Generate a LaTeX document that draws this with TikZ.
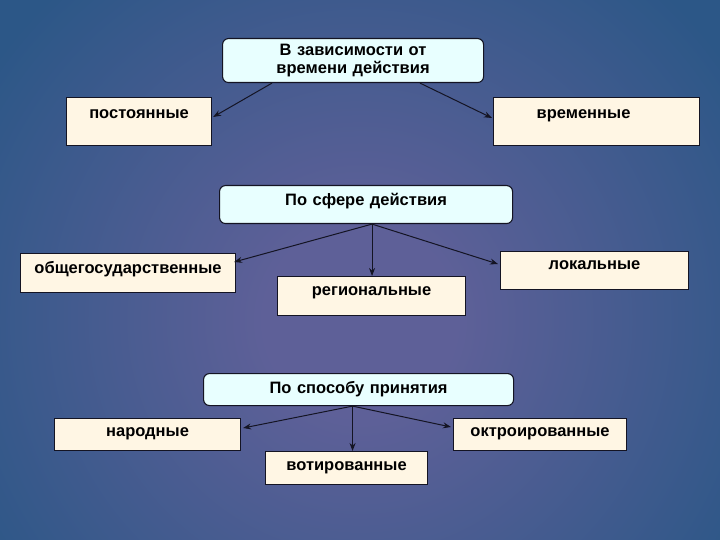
\documentclass[tikz,border=0pt]{standalone}
\usepackage{fontspec}
\setmainfont{Liberation Sans}
\usetikzlibrary{arrows.meta,calc}
\definecolor{bgout}{RGB}{44,87,135}
\definecolor{bgin}{RGB}{94,96,152}
\definecolor{cyanbox}{RGB}{232,255,255}
\definecolor{beige}{RGB}{255,246,228}
\definecolor{edgec}{RGB}{20,20,35}
\pgfdeclareradialshading{bgshade}{\pgfpoint{0bp}{0bp}}{color(0bp)=(bgin); color(6bp)=(bgin); color(28bp)=(bgout); color(50bp)=(bgout)}
\tikzset{
  box/.style={draw=edgec, line width=1.1pt, fill=beige, inner sep=0pt, anchor=north west, align=center,
    font=\bfseries\fontsize{16.5}{18}\selectfont},
  head/.style={box, fill=cyanbox, rounded corners=6pt},
  arr/.style={-{Stealth[length=8pt,width=6pt]}, line width=1pt, draw=edgec}
}
\begin{document}
\begin{tikzpicture}[x=1pt,y=-1pt]
\useasboundingbox (0,0) rectangle (720,540);
\begin{scope}
\clip (0,0) rectangle (720,540);
\shade[shading=bgshade] (-40,-80) rectangle (760,720);
\end{scope}

% group 1
\node[head, text width=261pt, minimum height=44pt] (h1) at (222,38) {В зависимости от\\времени действия};
\node[box, text width=145pt, text height=21pt, text depth=27pt] (post) at (66,97) {постоянные};
\node[box, text width=206pt, text height=21pt, text depth=27pt] (vrem) at (493,97) {временные\makebox[26pt]{}};

% group 2
\node[head, text width=293pt, text height=20pt, text depth=18pt] (h2) at (219,185) {По сфере действия};
\node[box, text width=215pt, text height=20pt, text depth=19pt] (obsh) at (20,253) {общегосударственные};
\node[box, text width=188pt, text height=18pt, text depth=20pt] (lok) at (500,251) {локальные};
\node[box, text width=188pt, text height=19pt, text depth=20pt] (reg) at (277,276) {региональные};

% group 3
\node[head, text width=310pt, text height=20pt, text depth=12pt] (h3) at (203,373) {По способу принятия};
\node[box, text width=186pt, text height=18pt, text depth=14pt] (nar) at (54,418) {народные};
\node[box, text width=173pt, text height=18pt, text depth=14pt] (oktr) at (453,418) {октроированные};
\node[box, text width=162pt, text height=19pt, text depth=14pt] (vot) at (265,451) {вотированные};

% connectors
\coordinate (s1a) at ($(h1.south west)+(50,0)$);
\coordinate (s1b) at ($(h1.south west)+(198,0)$);
\draw[arr] (s1a) -- ($(post.north east)+(1,20)$);
\draw[arr] (s1b) -- ($(vrem.north west)+(-1,21)$);

\coordinate (s2) at ($(h2.south)+(6,0)$);
\draw[arr] (s2) -- ($(obsh.north east)+(-2,9)$);
\draw[arr] (s2) -- (s2 |- reg.north);
\draw[arr] (s2) -- ($(lok.north west)+(-2,13)$);

\coordinate (s3) at ($(h3.south)+(-6,0)$);
\draw[arr] (s3) -- ($(nar.north east)+(2,10)$);
\draw[arr] (s3) -- (s3 |- vot.north);
\draw[arr] (s3) -- ($(oktr.north west)+(-2,9)$);
\end{tikzpicture}
\end{document}
